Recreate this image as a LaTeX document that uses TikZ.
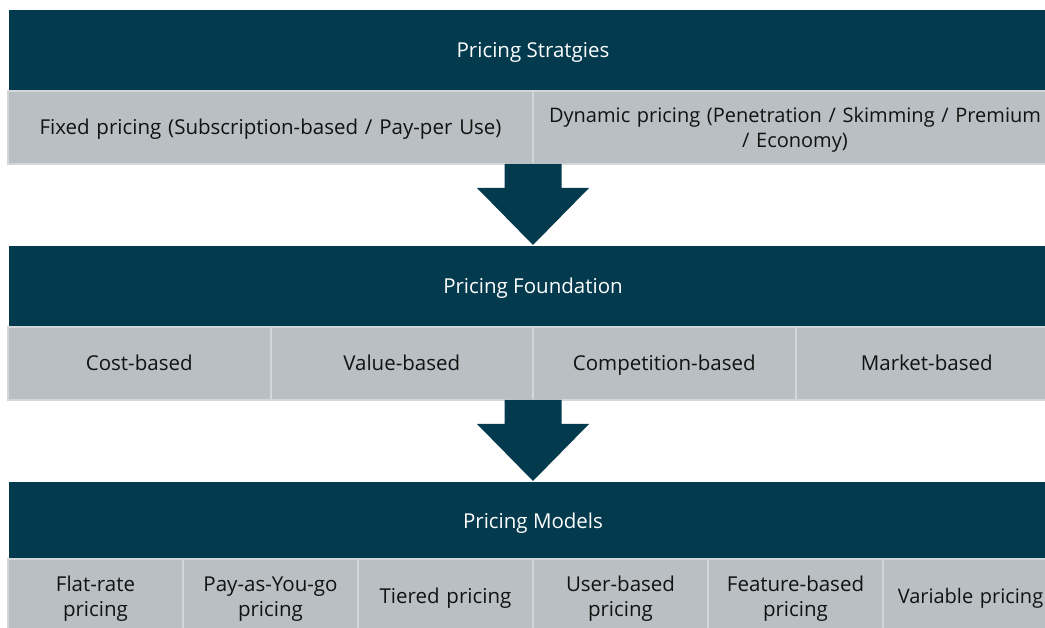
\documentclass[tikz,border=0pt]{standalone}
\usepackage{fontspec}
\setmainfont{Open Sans}
\usetikzlibrary{calc}
\definecolor{navy}{HTML}{033A4E}
\definecolor{cellgrey}{HTML}{B9BFC2}
\definecolor{cellline}{HTML}{D4D7D9}
\definecolor{ink}{HTML}{121212}
% strut that sits the text a little low in its box
\newcommand\lowstrut{\rule[-5pt]{0pt}{25pt}}
\begin{document}
\begin{tikzpicture}[x=1pt,y=-1pt,
  header/.style={fill=navy, text=white, anchor=north west, inner sep=0pt, outer sep=0pt,
    minimum width=1048pt, font=\fontsize{20.5}{25}\selectfont},
  cell/.style={fill=cellgrey, draw=cellline, line width=2pt, text=ink, anchor=north west,
    inner sep=0pt, outer sep=0pt, align=center, font=\fontsize{20.5}{25}\selectfont},
  edgecell/.style={cell, font=\fontsize{20}{25}\selectfont},
  flow/.style={fill=navy}]
\useasboundingbox (0,0) rectangle (1045,628);
\clip (0,0) rectangle (1045,628);

% --- Strategies ---
\node[header, minimum height=81pt] (h1) at (9,10) {\lowstrut Pricing Stratgies\lowstrut};
\node[cell, minimum width=525pt, minimum height=73pt, text width=515pt] (s1) at (8,91)
  {\lowstrut Fixed pricing (Subscription-based / Pay-per Use)\lowstrut};
\node[edgecell, minimum width=524pt, minimum height=73pt, text width=515pt] (s2) at (533,91)
  {\lowstrut Dynamic pricing (Penetration / Skimming / Premium\\/ Economy)\lowstrut};

% --- Foundation ---
\node[header, minimum height=81pt] (h2) at (9,246) {\lowstrut Pricing Foundation\lowstrut};
\foreach \t [count=\i from 0] in {Cost-based,Value-based,Competition-based,Market-based}
  \node[cell, minimum width=262.5pt, minimum height=73pt, text width=250pt]
    (f\i) at (8+262.5*\i,327) {\lowstrut\t\lowstrut};

% --- Models ---
\node[header, minimum height=77pt] (h3) at (9,482) {\lowstrut Pricing Models\lowstrut};
\foreach \t [count=\i from 0] in {Flat-rate\\pricing,Pay-as-You-go\\pricing,Tiered pricing,
    User-based\\pricing,Feature-based\\pricing}
  \node[cell, minimum width=175pt, minimum height=74pt, text width=172pt]
    (m\i) at (8+175*\i,559) {\lowstrut\t\lowstrut};
\node[edgecell, minimum width=175pt, minimum height=74pt, text width=172pt]
  (m5) at (883,559) {\lowstrut Variable pricing\lowstrut};

% --- flow arrows between the layers ---
\coordinate (a1) at ($(s1.south east)$);
\coordinate (a2) at ($(f1.south east)$);
\foreach \a/\b in {a1/h2,a2/h3}{
  \path let \p1=(\a), \p2=(\b.north) in
    [flow] (\x1-28.5pt,\y1) -- (\x1+28.5pt,\y1) -- (\x1+28.5pt,\y1-24pt)
      -- (\x1+56pt,\y1-24pt) -- (\x1,\y2+1pt) -- (\x1-56pt,\y1-24pt)
      -- (\x1-28.5pt,\y1-24pt) -- cycle;
}
\end{tikzpicture}
\end{document}
